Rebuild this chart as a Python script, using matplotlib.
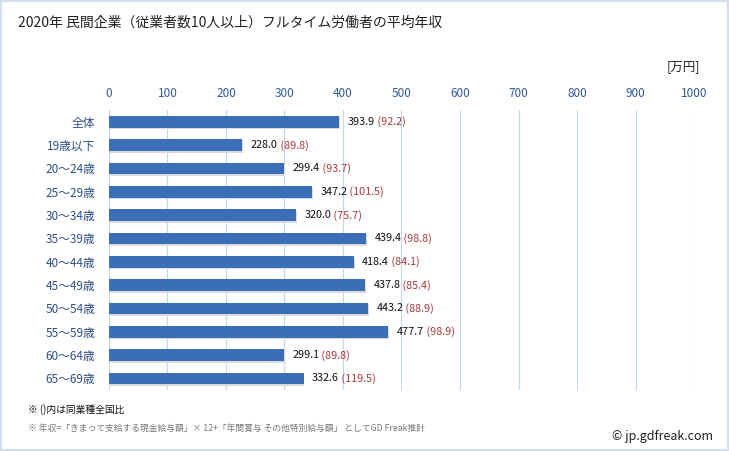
import matplotlib.pyplot as plt
from matplotlib.patches import Rectangle

plt.rcParams['font.family'] = ['Noto Sans CJK JP', 'DejaVu Sans']

categories = ['全体', '19歳以下', '20〜24歳', '25〜29歳', '30〜34歳', '35〜39歳',
              '40〜44歳', '45〜49歳', '50〜54歳', '55〜59歳', '60〜64歳', '65〜69歳']
values = [393.9, 228.0, 299.4, 347.2, 320.0, 439.4, 418.4, 437.8, 443.2, 477.7, 299.1, 332.6]
ratios = [92.2, 89.8, 93.7, 101.5, 75.7, 98.8, 84.1, 85.4, 88.9, 98.9, 89.8, 119.5]
xticks = [0, 100, 200, 300, 400, 500, 600, 700, 800, 900, 1000]

fig = plt.figure(figsize=(7.29, 4.51), dpi=100)
ax = fig.add_axes([0.1495, 0.135, 0.8025, 0.621])

# frame around the whole picture
fig.patches.append(Rectangle((0.002, 0.003), 0.996, 0.994, transform=fig.transFigure,
                             fill=False, edgecolor='#d5dfeb', linewidth=1.5))

y = list(range(len(categories)))
# soft shadow then bar
ax.barh([v + 0.08 for v in y], values, height=0.5, left=1.5, color='#dadada', zorder=2)
ax.barh(y, values, height=0.5, color='#3a6fb7', zorder=3)

for yi, v, r in zip(y, values, ratios):
    t = ax.annotate(f'{v:.1f}', xy=(v, yi), xytext=(6, 0), textcoords='offset points',
                    va='center', ha='left', fontsize=7.8, color='#111111', zorder=4)
    ax.annotate(f' ({r:.1f})', xy=(1, 0.5), xycoords=t, va='center', ha='left',
                fontsize=7.8, color='#a83a3a', zorder=4)

ax.set_xlim(0, 1000)
ax.set_ylim(len(categories) - 0.5, -0.5)
ax.set_xticks(xticks)
ax.xaxis.tick_top()
ax.tick_params(axis='x', length=0, pad=7, labelsize=8.5, labelcolor='#2f5a9a')
ax.set_yticks(y)
ax.set_yticklabels(categories)
ax.tick_params(axis='y', length=0, pad=10, labelsize=8.5, labelcolor='#2d4e86')
ax.grid(axis='x', color='#c6d6ea', linewidth=0.8, zorder=0)
for s in ax.spines.values():
    s.set_visible(False)
ax.axvline(0, color='#c0c8d4', linewidth=0.8, zorder=1)

fig.text(0.025, 0.951, '2020年 民間企業（従業者数10人以上）フルタイム労働者の平均年収',
         fontsize=10, color='#222222', va='center')
fig.text(0.96, 0.853, '[万円]', fontsize=9, color='#222222', ha='right', va='center')
fig.text(0.038, 0.093, '※ ()内は同業種全国比', fontsize=7, color='#111111', va='center')
fig.text(0.038, 0.051, '※ 年収=「きまって支給する現金給与額」× 12+「年間賞与 その他特別給与額」 としてGD Freak推計',
         fontsize=6.3, color='#777777', va='center')
fig.text(0.978, 0.033, '© jp.gdfreak.com', fontsize=9, color='#222222', ha='right', va='center')

fig.savefig('out.png', dpi=100)
